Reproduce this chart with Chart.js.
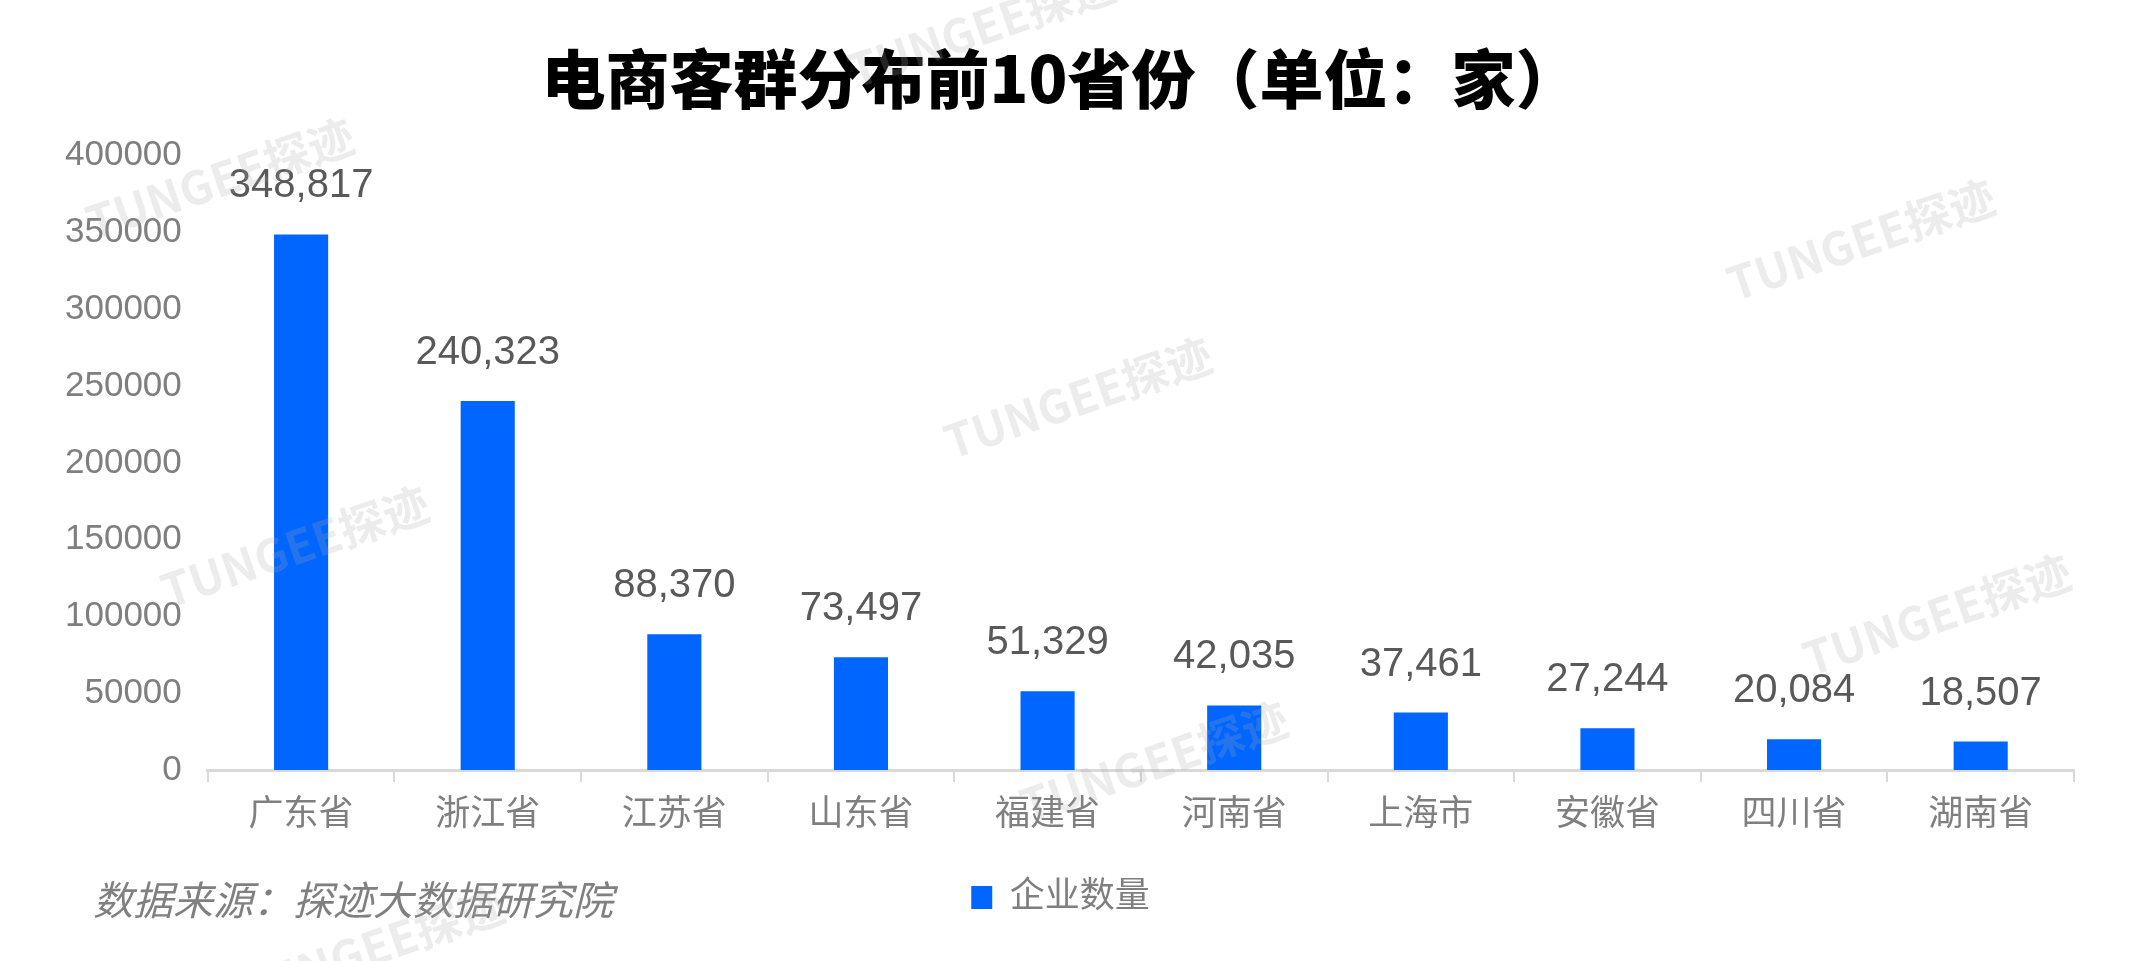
<!DOCTYPE html>
<html>
<head>
<meta charset="utf-8">
<script src="https://cdn.jsdelivr.net/npm/chart.js@4"></script>
<style>
  html, body { margin: 0; padding: 0; background: #fff; }
  #wrap { width: 2154px; height: 961px; }
</style>
</head>
<body>
<div id="wrap"><canvas id="chart"></canvas></div>
<script>
const provinces = ['广东省', '浙江省', '江苏省', '山东省', '福建省', '河南省', '上海市', '安徽省', '四川省', '湖南省'];
const companyCounts = [348817, 240323, 88370, 73497, 51329, 42035, 37461, 27244, 20084, 18507];
const seriesName = '企业数量';
const yMax = 400000;
const yStep = 50000;

const FONT = '"Liberation Sans", "Noto Sans CJK SC", Arial, sans-serif';

// value labels above bars
const valueLabels = {
  id: 'valueLabels',
  afterDatasetsDraw(chart) {
    const ctx = chart.ctx;
    const meta = chart.getDatasetMeta(0);
    ctx.save();
    ctx.font = '40px ' + FONT;
    ctx.fillStyle = '#595959';
    ctx.textAlign = 'center';
    ctx.textBaseline = 'middle';
    meta.data.forEach((bar, i) => {
      ctx.fillText(companyCounts[i].toLocaleString('en-US'), bar.x, bar.y - 48);
    });
    ctx.restore();
  }
};

// source note + watermarks
const extras = {
  id: 'extras',
  afterDraw(chart) {
    const ctx = chart.ctx;
    ctx.save();
    ctx.font = 'italic 40px "Noto Sans CJK SC", sans-serif';
    ctx.fillStyle = '#808080';
    ctx.textAlign = 'left';
    ctx.textBaseline = 'middle';
    ctx.fillText('数据来源：探迹大数据研究院', 93, 900);
    ctx.restore();

    const marks = [[220, 179], [1861, 240], [1078, 398], [295, 547], [1937, 615], [1154, 762], [371, 948], [982, 27]];
    ctx.save();
    ctx.font = 'bold 46px "Noto Sans CJK SC", sans-serif';
    ctx.fillStyle = 'rgba(170,170,170,0.22)';
    ctx.textAlign = 'center';
    ctx.textBaseline = 'middle';
    marks.forEach(([x, y]) => {
      ctx.save();
      ctx.translate(x, y);
      ctx.rotate(-0.33);
      ctx.fillText('TUNGEE探迹', 0, 0);
      ctx.restore();
    });
    ctx.restore();
  }
};

new Chart(document.getElementById('chart'), {
  type: 'bar',
  data: {
    labels: provinces,
    datasets: [{
      label: seriesName,
      data: companyCounts,
      backgroundColor: '#0066FF',
      barPercentage: 0.29,
      categoryPercentage: 1.0
    }]
  },
  options: {
    responsive: true,
    maintainAspectRatio: false,
    animation: false,
    layout: { padding: { left: 47, right: 80, top: 0, bottom: 36 } },
    plugins: {
      title: {
        display: true,
        text: '电商客群分布前10省份（单位：家）',
        color: '#000',
        font: { family: '"Noto Sans CJK SC", sans-serif', size: 64, weight: 900 },
        padding: { top: 40, bottom: 39 }
      },
      legend: {
        position: 'bottom',
        labels: {
          color: '#7f7f7f',
          font: { family: FONT, size: 35 },
          boxWidth: 21,
          boxHeight: 23,
          padding: 32
        }
      },
      tooltip: { enabled: false }
    },
    scales: {
      x: {
        grid: {
          offset: true,
          drawOnChartArea: false,
          drawTicks: true,
          tickLength: 12,
          color: '#d9d9d9',
          lineWidth: 2
        },
        border: { color: '#d9d9d9', width: 3 },
        ticks: { color: '#7f7f7f', font: { family: FONT, size: 35 }, padding: 12 }
      },
      y: {
        min: 0,
        max: yMax,
        grid: { display: false },
        border: { display: false },
        ticks: {
          stepSize: yStep,
          color: '#7f7f7f',
          font: { family: FONT, size: 35 },
          padding: 18,
          callback: (v) => String(v)
        }
      }
    }
  },
  plugins: [valueLabels, extras]
});
</script>
</body>
</html>
